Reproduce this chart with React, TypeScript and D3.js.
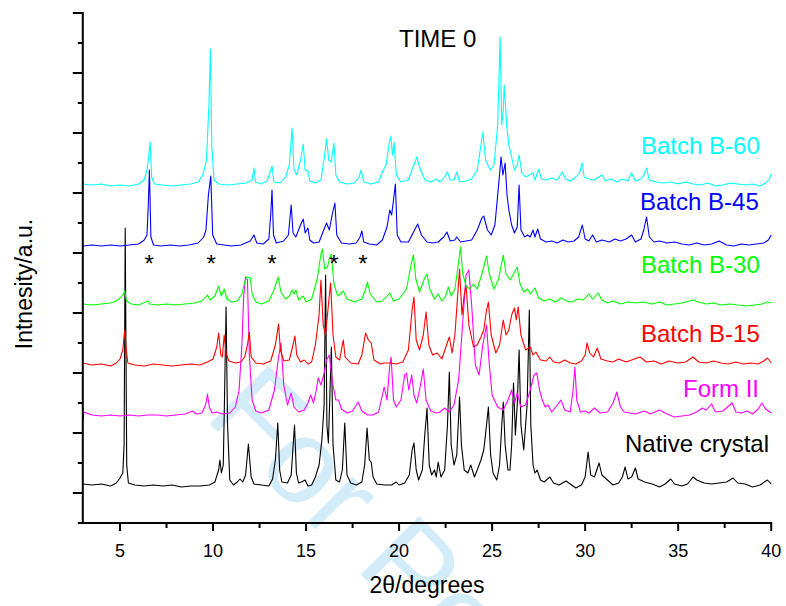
import React from 'react';
import * as d3 from 'd3';

type Pt = [number, number];

// 2θ (degrees) vs intensity above each pattern's own baseline (a.u.)
const nativeCrystal: Pt[] = [[3.0,1],[3.5,0],[4.0,1],[4.5,-1],[4.8,2],[5.0,7],[5.15,12],[5.22,40],[5.28,257],[5.36,20],[5.45,2],[5.8,0],[6.3,-1],[6.8,0],[7.3,-1],[7.8,0],[8.3,-2],[8.8,-1],[9.3,-1],[9.8,0],[10.1,3],[10.3,15],[10.37,25],[10.45,12],[10.55,20],[10.62,90],[10.7,178],[10.78,60],[10.9,5],[11.1,0],[11.3,3],[11.45,6],[11.6,3],[11.75,10],[11.9,41],[12.05,8],[12.2,1],[12.6,0],[13.0,-1],[13.2,6],[13.35,25],[13.48,62],[13.58,15],[13.7,3],[14.0,2],[14.2,10],[14.38,60],[14.48,12],[14.6,2],[14.75,3],[14.95,5],[15.1,-1],[15.3,0],[15.5,8],[15.7,20],[15.85,45],[15.97,80],[16.05,210],[16.12,60],[16.2,42],[16.28,90],[16.36,138],[16.45,40],[16.6,5],[16.8,3],[16.95,15],[17.08,62],[17.2,10],[17.4,2],[17.7,0],[18.0,3],[18.15,20],[18.28,57],[18.4,25],[18.5,23],[18.6,8],[18.8,1],[19.2,0],[19.6,0],[19.85,3],[20.0,0],[20.3,2],[20.55,10],[20.7,35],[20.8,42],[20.92,15],[21.05,5],[21.25,15],[21.38,50],[21.5,77],[21.62,20],[21.75,10],[21.9,15],[22.0,8],[22.1,23],[22.25,8],[22.45,15],[22.6,60],[22.7,113],[22.8,40],[22.95,20],[23.1,30],[23.25,88],[23.35,40],[23.5,15],[23.7,12],[23.85,20],[24.05,8],[24.2,15],[24.4,25],[24.55,35],[24.7,60],[24.8,78],[24.92,30],[25.05,12],[25.25,5],[25.4,20],[25.52,60],[25.6,83],[25.7,40],[25.85,15],[25.96,15],[26.05,40],[26.15,102],[26.25,50],[26.35,80],[26.45,135],[26.55,60],[26.7,35],[26.88,80],[27.0,175],[27.08,60],[27.2,20],[27.3,12],[27.42,15],[27.6,5],[27.8,3],[28.1,8],[28.3,2],[28.6,0],[28.97,4],[29.2,1],[29.5,-3],[29.8,0],[30.0,8],[30.16,33],[30.3,10],[30.5,8],[30.75,22],[30.9,10],[31.2,5],[31.5,0],[31.8,2],[32.0,8],[32.15,18],[32.3,6],[32.5,8],[32.7,17],[32.85,6],[33.2,3],[33.6,1],[34.0,-2],[34.3,1],[34.6,6],[34.8,1],[35.2,-1],[35.5,1],[35.8,8],[36.0,5],[36.4,2],[36.8,1],[37.2,2],[37.6,3],[37.95,7],[38.2,2],[38.6,1],[39.0,-2],[39.4,0],[39.8,5],[40.0,1]];

const formII: Pt[] = [[3.0,7],[3.02,-5],[3.05,3],[3.5,0],[4.0,-1],[4.5,0],[5.0,-1],[5.5,0],[6.0,-1],[6.5,0],[7.0,0],[7.5,-1],[8.0,0],[8.5,1],[8.9,4],[9.1,1],[9.4,2],[9.6,10],[9.7,21],[9.8,8],[9.95,2],[10.2,3],[10.5,1],[10.9,2],[11.2,8],[11.4,25],[11.55,70],[11.65,120],[11.75,138],[11.85,135],[11.95,60],[12.1,15],[12.3,4],[12.6,2],[13.0,5],[13.3,25],[13.5,55],[13.65,72],[13.8,30],[14.0,10],[14.2,22],[14.35,8],[14.6,3],[14.9,5],[15.1,12],[15.25,20],[15.4,12],[15.55,25],[15.65,37],[15.8,30],[15.95,40],[16.1,55],[16.25,60],[16.4,35],[16.6,15],[16.75,15],[16.9,6],[17.2,2],[17.5,4],[17.8,13],[18.0,4],[18.3,0],[18.6,0],[18.9,3],[19.1,20],[19.2,28],[19.35,15],[19.5,50],[19.57,58],[19.7,15],[19.85,8],[20.1,15],[20.3,40],[20.4,42],[20.52,25],[20.68,40],[20.8,20],[20.95,12],[21.15,30],[21.3,46],[21.45,15],[21.7,4],[22.0,2],[22.2,3],[22.45,7],[22.7,3],[22.95,10],[23.2,35],[23.45,100],[23.6,140],[23.75,145],[23.9,110],[24.1,50],[24.3,40],[24.5,70],[24.7,90],[24.85,50],[25.0,20],[25.3,8],[25.6,5],[25.85,15],[26.05,25],[26.2,12],[26.35,22],[26.55,8],[26.8,10],[27.05,25],[27.25,40],[27.4,42],[27.55,25],[27.7,15],[27.85,8],[28.0,10],[28.2,3],[28.5,10],[28.7,15],[28.9,5],[29.2,3],[29.35,25],[29.45,48],[29.55,15],[29.75,3],[30.0,4],[30.2,2],[30.5,7],[30.8,2],[31.2,3],[31.5,12],[31.7,23],[31.9,8],[32.1,3],[32.4,2],[32.7,1],[33.2,4],[33.5,1],[34.0,5],[34.4,1],[34.8,-2],[35.2,-1],[35.6,0],[36.0,3],[36.3,7],[36.5,5],[36.8,11],[37.0,3],[37.4,4],[37.9,12],[38.1,3],[38.4,2],[38.7,4],[39.0,1],[39.3,6],[39.5,12],[39.7,6],[40.0,2]];

const batchB15: Pt[] = [[3.0,2],[3.5,0],[4.0,1],[4.5,-1],[4.8,2],[5.0,6],[5.15,15],[5.25,35],[5.32,18],[5.42,2],[5.8,0],[6.3,-1],[6.8,1],[7.3,0],[7.8,-1],[8.3,0],[8.8,1],[9.3,0],[9.7,3],[10.0,6],[10.2,18],[10.3,32],[10.42,10],[10.5,8],[10.6,30],[10.7,12],[10.85,4],[11.2,2],[11.5,3],[11.7,8],[11.85,20],[11.95,33],[12.05,8],[12.3,2],[12.7,1],[13.1,4],[13.35,20],[13.52,41],[13.62,15],[13.8,4],[14.1,5],[14.3,20],[14.4,29],[14.5,10],[14.7,3],[14.9,5],[15.1,1],[15.3,3],[15.5,20],[15.7,50],[15.8,85],[15.92,40],[16.05,30],[16.2,60],[16.32,82],[16.45,30],[16.6,8],[16.8,5],[16.9,15],[17.0,25],[17.1,8],[17.4,2],[17.8,1],[18.0,10],[18.2,32],[18.35,25],[18.5,22],[18.65,5],[19.0,1],[19.2,2],[19.5,2],[19.85,1],[20.2,3],[20.5,15],[20.7,55],[20.8,68],[20.92,25],[21.1,15],[21.3,30],[21.45,53],[21.6,20],[21.8,10],[22.05,12],[22.3,6],[22.55,20],[22.7,28],[22.85,12],[23.0,30],[23.15,70],[23.25,96],[23.38,50],[23.5,70],[23.6,80],[23.75,40],[24.0,18],[24.2,20],[24.4,28],[24.55,35],[24.7,55],[24.8,63],[24.95,30],[25.2,12],[25.4,20],[25.6,45],[25.75,30],[25.9,35],[26.05,50],[26.2,57],[26.3,45],[26.4,58],[26.55,30],[26.8,15],[27.05,18],[27.2,10],[27.35,13],[27.6,5],[27.9,4],[28.1,8],[28.3,3],[28.6,2],[28.9,5],[29.2,2],[29.5,1],[29.8,4],[30.0,10],[30.1,22],[30.25,12],[30.45,8],[30.65,17],[30.85,6],[31.2,4],[31.5,3],[31.8,6],[32.2,3],[32.5,5],[32.95,8],[33.3,3],[33.7,4],[34.1,1],[34.5,4],[35.0,2],[35.4,3],[35.8,8],[36.1,3],[36.5,2],[36.9,4],[37.3,2],[37.7,1],[38.1,3],[38.5,1],[38.9,2],[39.3,1],[39.6,4],[39.8,7],[40.0,2]];

const batchB30: Pt[] = [[3.0,0],[3.5,-1],[4.0,0],[4.5,1],[4.8,3],[5.0,6],[5.15,9],[5.25,13],[5.35,3],[5.6,0],[6.0,-1],[6.5,3],[6.6,0],[7.0,-1],[7.5,0],[8.0,-1],[8.5,0],[9.0,1],[9.4,3],[9.7,9],[9.85,4],[10.1,8],[10.3,18],[10.45,8],[10.6,15],[10.75,5],[11.0,2],[11.3,3],[11.55,10],[11.7,22],[11.8,27],[12.0,26],[12.1,10],[12.3,2],[12.6,0],[13.0,3],[13.3,15],[13.5,27],[13.65,12],[13.9,5],[14.1,8],[14.25,14],[14.35,10],[14.45,14],[14.6,4],[14.85,8],[15.0,2],[15.3,5],[15.6,25],[15.8,50],[15.88,55],[16.0,35],[16.15,37],[16.25,45],[16.35,50],[16.5,20],[16.7,8],[17.0,13],[17.2,5],[17.6,2],[18.0,5],[18.2,15],[18.3,22],[18.45,10],[18.8,2],[19.1,3],[19.5,11],[19.7,3],[20.0,5],[20.4,15],[20.65,40],[20.77,49],[20.9,25],[21.1,12],[21.35,25],[21.5,30],[21.65,15],[21.9,5],[22.1,10],[22.3,3],[22.5,8],[22.65,17],[22.8,8],[23.0,15],[23.15,35],[23.3,57],[23.42,30],[23.6,18],[23.8,15],[24.0,20],[24.2,15],[24.45,30],[24.7,48],[24.85,30],[25.1,15],[25.35,25],[25.5,40],[25.6,49],[25.75,30],[25.97,24],[26.15,30],[26.35,37],[26.5,20],[26.7,12],[26.9,15],[27.05,10],[27.3,16],[27.5,6],[27.8,3],[28.1,5],[28.4,2],[28.7,6],[29.0,3],[29.3,2],[29.6,5],[29.9,4],[30.2,10],[30.4,5],[30.7,11],[30.9,4],[31.2,1],[31.5,3],[31.9,0],[32.3,2],[32.7,1],[33.1,2],[33.6,0],[34.0,2],[34.4,-1],[34.8,0],[35.2,1],[35.8,4],[36.1,2],[36.5,0],[36.9,1],[37.3,-1],[37.8,0],[38.2,-1],[38.7,-2],[39.1,-1],[39.5,0],[39.8,2],[40.0,1]];

const batchB45: Pt[] = [[3.0,-1],[3.5,0],[4.0,-1],[4.5,0],[5.0,-1],[5.5,0],[6.0,1],[6.3,5],[6.45,10],[6.52,40],[6.58,75],[6.66,8],[6.8,0],[7.2,-1],[7.7,0],[8.2,-1],[8.7,0],[9.2,2],[9.5,8],[9.62,15],[9.75,50],[9.88,69],[9.98,10],[10.2,1],[10.6,0],[11.0,-1],[11.5,0],[12.0,4],[12.2,10],[12.35,2],[12.7,1],[13.0,6],[13.1,30],[13.17,55],[13.25,10],[13.4,2],[13.8,4],[14.05,10],[14.2,40],[14.3,12],[14.45,8],[14.7,20],[14.85,26],[14.95,12],[15.1,17],[15.2,5],[15.4,2],[15.7,3],[15.95,15],[16.1,22],[16.25,15],[16.4,30],[16.55,42],[16.65,10],[16.9,2],[17.3,1],[17.7,2],[17.9,8],[18.0,14],[18.1,3],[18.4,1],[18.8,0],[19.1,5],[19.35,18],[19.5,35],[19.6,30],[19.7,45],[19.8,61],[19.9,10],[20.1,3],[20.5,3],[20.75,12],[21.0,21],[21.2,10],[21.5,3],[21.8,2],[22.1,3],[22.4,8],[22.57,13],[22.75,4],[23.0,5],[23.1,8],[23.3,3],[23.6,4],[23.9,5],[24.2,15],[24.45,27],[24.55,29],[24.75,15],[24.95,10],[25.15,20],[25.35,60],[25.48,88],[25.58,70],[25.7,82],[25.8,50],[25.9,35],[26.05,20],[26.2,12],[26.35,18],[26.45,60],[26.55,15],[26.75,8],[26.9,10],[27.05,8],[27.2,15],[27.3,8],[27.45,16],[27.6,6],[27.9,3],[28.2,4],[28.5,2],[28.8,5],[29.1,3],[29.4,4],[29.65,8],[29.85,20],[30.0,6],[30.2,4],[30.4,10],[30.6,3],[30.9,5],[31.3,3],[31.6,6],[31.9,4],[32.2,6],[32.5,10],[32.7,3],[33.0,6],[33.15,15],[33.3,28],[33.45,8],[33.7,3],[34.0,4],[34.4,2],[34.8,3],[35.2,1],[35.6,0],[36.0,2],[36.4,0],[36.8,1],[37.2,4],[37.6,0],[38.0,-1],[38.4,1],[38.8,0],[39.2,1],[39.6,2],[39.85,5],[40.0,10]];

const batchB60: Pt[] = [[3.0,1],[3.5,0],[4.0,1],[4.5,-1],[5.0,0],[5.5,-1],[6.0,1],[6.3,5],[6.45,15],[6.55,30],[6.62,43],[6.7,8],[6.85,1],[7.3,0],[7.8,-1],[8.3,0],[8.8,1],[9.2,3],[9.45,10],[9.65,25],[9.78,80],[9.86,136],[9.93,40],[10.05,5],[10.3,1],[10.8,0],[11.3,1],[11.8,2],[12.1,5],[12.2,17],[12.28,3],[12.6,1],[12.9,4],[13.1,15],[13.17,19],[13.27,3],[13.6,2],[13.9,8],[14.1,20],[14.25,57],[14.35,15],[14.5,10],[14.7,25],[14.85,41],[14.95,15],[15.1,14],[15.2,4],[15.5,2],[15.8,5],[16.0,30],[16.1,46],[16.22,25],[16.35,23],[16.5,42],[16.6,10],[16.8,3],[17.2,1],[17.6,2],[17.85,8],[17.96,15],[18.1,3],[18.5,1],[18.9,3],[19.1,13],[19.3,20],[19.45,40],[19.55,49],[19.65,30],[19.73,43],[19.85,10],[20.1,3],[20.5,5],[20.75,18],[20.95,28],[21.15,15],[21.4,5],[21.7,3],[22.0,6],[22.2,3],[22.45,8],[22.6,13],[22.75,5],[22.95,5],[23.1,13],[23.25,3],[23.6,4],[23.9,6],[24.2,15],[24.4,40],[24.5,53],[24.65,25],[24.9,15],[25.1,20],[25.3,60],[25.43,148],[25.52,60],[25.6,75],[25.65,100],[25.78,60],[25.9,40],[26.05,28],[26.2,15],[26.35,20],[26.45,30],[26.6,12],[26.8,8],[27.0,10],[27.2,12],[27.3,5],[27.5,16],[27.65,6],[27.9,5],[28.2,7],[28.5,5],[28.76,13],[28.95,6],[29.2,4],[29.5,8],[29.7,12],[29.84,22],[29.95,8],[30.2,6],[30.5,5],[30.9,10],[31.1,4],[31.4,6],[31.7,3],[32.0,6],[32.3,4],[32.5,12],[32.7,4],[33.0,6],[33.15,10],[33.3,17],[33.45,5],[33.8,3],[34.2,2],[34.6,3],[35.0,1],[35.4,3],[35.8,1],[36.2,0],[36.6,2],[37.0,-1],[37.4,0],[37.8,2],[38.2,1],[38.6,0],[39.0,1],[39.4,-1],[39.7,2],[39.9,6],[40.0,11]];

const seriesNames = ['Native crystal', 'Form II', 'Batch B-15', 'Batch B-30', 'Batch B-45', 'Batch B-60'];
const seriesData = [nativeCrystal, formII, batchB15, batchB30, batchB45, batchB60];
const seriesOffsets = [38, 108, 158, 219, 278, 338];
const seriesColors = ['#000000', '#ff00ff', '#ff0000', '#00ff00', '#0000ff', '#00ffff'];

const xTicks = [5, 10, 15, 20, 25, 30, 35, 40];
const xMinorTicks = [7.5, 12.5, 17.5, 22.5, 27.5, 32.5, 37.5];
const starPositions = [6.57, 9.9, 13.17, 16.5, 18.05];

const FONT = 'Arial, "Liberation Sans", Helvetica, sans-serif';

export default function App() {
  const x = d3.scaleLinear().domain([3, 40]).range([82.8, 771.2]);
  const y = d3.scaleLinear().domain([0, 510]).range([523, 13]);
  const yTicks = d3.range(0, 511, 30);

  // label placements (left x, baseline y)
  const labelPos: [number, number][] = [[625, 452], [683, 397], [641, 342], [641, 273], [640, 210], [641, 154]];

  return (
    <svg width={786} height={606} style={{ position: 'absolute', left: 0, top: 0, background: '#fff' }}>
      <rect x={0} y={0} width={786} height={606} fill="#fff" />
      <text
        x={0}
        y={0}
        transform="translate(203,417) rotate(45)"
        fontFamily={FONT}
        fontSize={120}
        fill="#d3ecfa"
      >
        For Peer Review
      </text>

      {seriesData.map((data, i) => {
        const line = d3
          .line<Pt>()
          .x((d) => x(d[0]))
          .y((d) => y(d[1] + seriesOffsets[i]));
        return (
          <path
            key={seriesNames[i]}
            d={line(data) || ''}
            fill="none"
            stroke={seriesColors[i]}
            strokeWidth={1.1}
            strokeLinejoin="round"
          />
        );
      })}

      {/* axes */}
      <line x1={x(3)} x2={x(3)} y1={y(510) - 1} y2={y(0) + 1} stroke="#000" strokeWidth={2} />
      <line x1={x(3) - 1} x2={x(40) + 1} y1={y(0)} y2={y(0)} stroke="#000" strokeWidth={2} />
      {yTicks.map((v) => {
        const major = (v - 30) % 60 === 0;
        return (
          <line key={'yt' + v} x1={x(3) - (major ? 10 : 5)} x2={x(3)} y1={y(v)} y2={y(v)} stroke="#000" strokeWidth={2} />
        );
      })}
      {xTicks.map((t) => (
        <g key={'xt' + t}>
          <line x1={x(t)} x2={x(t)} y1={y(0)} y2={y(0) + 8} stroke="#000" strokeWidth={2} />
          <text x={x(t)} y={557} textAnchor="middle" fontFamily={FONT} fontSize={18} fill="#000">
            {t}
          </text>
        </g>
      ))}
      {xMinorTicks.map((t) => (
        <line key={'xm' + t} x1={x(t)} x2={x(t)} y1={y(0)} y2={y(0) + 5} stroke="#000" strokeWidth={2} />
      ))}

      <text x={427} y={593} textAnchor="middle" fontFamily={FONT} fontSize={23} fill="#000">
        2θ/degrees
      </text>
      <text
        transform="translate(32,284) rotate(-90)"
        textAnchor="middle"
        fontFamily={FONT}
        fontSize={23}
        fill="#000"
      >
        Intnesity/a.u.
      </text>
      <text x={399} y={47} fontFamily={FONT} fontSize={24} fill="#000">
        TIME 0
      </text>

      {starPositions.map((s) => (
        <text key={'st' + s} x={x(s)} y={272} textAnchor="middle" fontFamily={FONT} fontSize={24} fill="#000">
          *
        </text>
      ))}

      {seriesNames.map((n, i) => (
        <text key={'lb' + n} x={labelPos[i][0]} y={labelPos[i][1]} fontFamily={FONT} fontSize={24} fill={seriesColors[i]}>
          {n}
        </text>
      ))}
    </svg>
  );
}
